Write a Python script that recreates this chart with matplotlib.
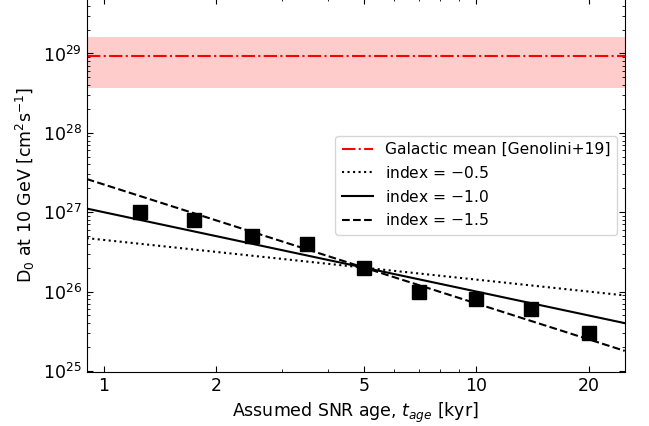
import numpy as np
import matplotlib
matplotlib.use("Agg")
import matplotlib.pyplot as plt
from matplotlib.ticker import FixedLocator, FixedFormatter, NullFormatter, LogLocator

# Data
snr_age = [1.25, 1.75, 2.5, 3.5, 5.0, 7.0, 10.0, 14.0, 20.0]          # kyr
d0_values = [1.0e27, 8.0e26, 5.0e26, 4.0e26, 2.0e26, 1.0e26, 8.0e25, 6.0e25, 3.0e25]
galactic_mean = 9.2e28
galactic_low = 3.65e28
galactic_high = 1.63e29
ref_age = 5.0
ref_d0 = 2.0e26
indices = [-0.5, -1.0, -1.5]
index_styles = [':', '-', '--']
xticks = [1, 2, 5, 10, 20]
xticklabels = ['1', '2', '5', '10', '20']

fig = plt.figure(figsize=(6.49, 4.26), dpi=100)
ax = fig.add_axes([0.1336, 0.126, 0.829, 0.8787])

xlim = (0.9, 25.0)
ax.set_xscale('log')
ax.set_yscale('log')

ax.axhspan(galactic_low, galactic_high, color='red', alpha=0.2, lw=0)
ax.axhline(galactic_mean, color='red', ls='-.', lw=1.5, label='Galactic mean [Genolini+19]')

xx = np.logspace(np.log10(xlim[0]), np.log10(xlim[1]), 200)
for idx, ls in zip(indices, index_styles):
    ax.plot(xx, ref_d0 * (xx / ref_age) ** idx, color='black', ls=ls, lw=1.5,
            label='index = $-$%.1f' % abs(idx))

ax.plot(snr_age, d0_values, 's', color='black', ms=10.5, ls='none')

ax.set_xlim(*xlim)
ax.set_ylim(9.6e24, 5e29)

ax.xaxis.set_major_locator(FixedLocator(xticks))
ax.xaxis.set_major_formatter(FixedFormatter(xticklabels))
ax.xaxis.set_minor_locator(LogLocator(base=10, subs=np.arange(2, 10)))
ax.xaxis.set_minor_formatter(NullFormatter())
ax.yaxis.set_major_locator(LogLocator(base=10, numticks=20))
ax.yaxis.set_minor_locator(LogLocator(base=10, subs=np.arange(2, 10), numticks=20))
ax.yaxis.set_minor_formatter(NullFormatter())

ax.tick_params(which='both', direction='in', top=True, right=True, labelsize=12.5)
ax.tick_params(which='major', length=4)
ax.tick_params(which='minor', length=2)

ax.set_xlabel('Assumed SNR age, $t_{age}$ [kyr]', fontsize=12.5)
ax.set_ylabel('D$_0$ at 10 GeV [cm$^2$s$^{-1}$]', fontsize=12.5)

ax.legend(loc='center right', fontsize=11.2)

fig.savefig('out.png', dpi=100)
